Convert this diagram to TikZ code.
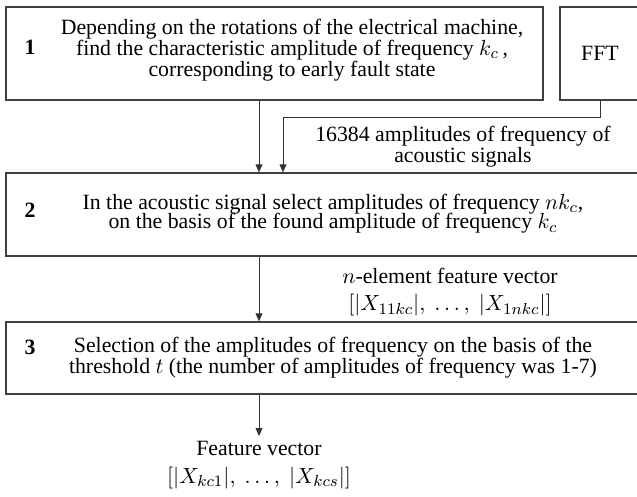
\documentclass[tikz,border=0pt]{standalone}
\usepackage{fontspec}
\setmainfont{Liberation Serif}
\usetikzlibrary{positioning, arrows.meta}

\begin{document}
\begin{tikzpicture}[x=0.5pt, y=-0.5pt, >={Triangle[length=4pt, width=3.4pt]},
    every node/.style={font=\fontsize{10.9}{10.4}\selectfont, align=center},
    block/.style={draw=black!75, line width=0.6pt, inner sep=0pt},
    flow/.style={->, draw=black!80, line width=0.5pt},
    num/.style={font=\fontsize{10.9}{10.4}\selectfont\bfseries}]
    \clip (0,0) rectangle (637,497);

    \node[block, minimum width=268.5pt, minimum height=46.5pt] (box1) at (274.5,53.5) {};
    \node (txt1) at (292,50) {Depending on the rotations of the electrical machine,\\
        find the characteristic amplitude of frequency $k_c$\,,\\
        corresponding to early fault state};
    \node[num] (num1) at (30,47) {1};

    \node[block, minimum width=40pt, minimum height=46.5pt] (fft) at (600,53.5) {FFT};

    \node[block, minimum width=327pt, minimum height=41.5pt] (box2) at (333,214.5)
        {\raisebox{2pt}{\begin{tabular}{@{}c@{}}In the acoustic signal select amplitudes of frequency $nk_c$,\\[-1pt]
        on the basis of the found amplitude of frequency $k_c$\end{tabular}}};
    \node[num] (num2) at (30,210) {2};

    \node[block, minimum width=327pt, minimum height=36pt] (box3) at (333,358)
        {Selection of the amplitudes of frequency on the basis of the\\
        threshold $t$ (the number of amplitudes of frequency was 1-7)};
    \node[num] (num3) at (30,347) {3};

    \node (amps) at (463,147) {16384 amplitudes of frequency of\\ acoustic signals};
    \node (nvec) at (450,292) {$n$-element feature vector\\[3.5pt]
        $[|X_{11kc}|,\ \ldots,\ |X_{1nkc}|]$};
    \node (feat) at (259,465) {Feature vector\\[3.5pt] $[|X_{kc1}|,\ \ldots,\ |X_{kcs}|]$};

    \coordinate (bend) at (283,118);

    \draw[flow] (box1.south -| feat.north) -- (box2.north -| feat.north);
    \draw[flow] (fft.south) |- (bend) -- (box2.north -| bend);
    \draw[flow] (box2.south -| feat.north) -- (box3.north -| feat.north);
    \draw[flow] (box3.south -| feat.north) -- ([yshift=-1pt]feat.north);
\end{tikzpicture}
\end{document}
